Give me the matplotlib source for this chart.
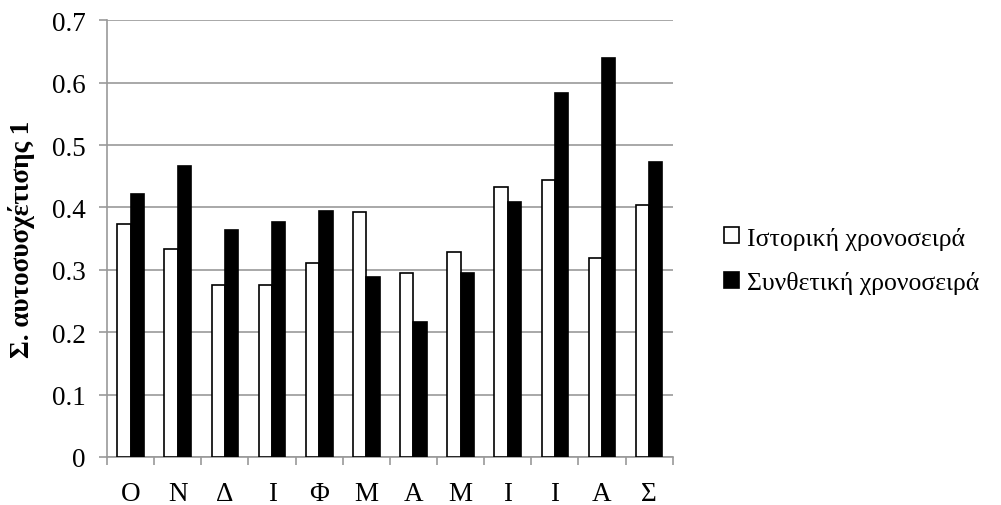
import matplotlib.pyplot as plt
import numpy as np

# Monthly lag-1 autocorrelation, historical vs synthetic series
months = ['Ο', 'Ν', 'Δ', 'Ι', 'Φ', 'Μ', 'Α', 'Μ', 'Ι', 'Ι', 'Α', 'Σ']
historical = [0.374, 0.334, 0.275, 0.275, 0.311, 0.393, 0.295, 0.329, 0.433, 0.444, 0.319, 0.404]
synthetic = [0.422, 0.467, 0.364, 0.377, 0.395, 0.289, 0.216, 0.295, 0.409, 0.583, 0.639, 0.472]

serif = 'Liberation Serif'

fig = plt.figure(figsize=(10.01, 5.06), dpi=100)
ax = fig.add_axes([0.107, 0.095, 0.565, 0.863])

x = np.arange(len(months))
w = 0.283
ax.bar(x - w / 2, historical, w, color='white', edgecolor='black', linewidth=1.2,
       label='Ιστορική χρονοσειρά', zorder=3)
ax.bar(x + w / 2, synthetic, w, color='black', edgecolor='black', linewidth=1.2,
       label='Συνθετική χρονοσειρά', zorder=3)

ax.set_xlim(-0.5, len(months) - 0.5)
ax.set_ylim(0, 0.7)
ax.set_yticks(np.arange(0, 0.71, 0.1))
ax.set_yticklabels(['0', '0.1', '0.2', '0.3', '0.4', '0.5', '0.6', '0.7'])
ax.yaxis.grid(True, color='#999999', linewidth=1.2, zorder=0)

# category ticks at group boundaries, labels centred
ax.set_xticks(np.arange(-0.5, len(months), 1.0))
ax.set_xticklabels([])
ax.set_xticks(x, minor=True)
ax.set_xticklabels(months, minor=True, family=serif, fontsize=19.5)
ax.tick_params(axis='x', which='minor', length=0, pad=17)
ax.tick_params(axis='x', which='major', length=5.5, color='#999999', width=1.2)
ax.tick_params(axis='y', length=5.5, color='#999999', width=1.2, pad=10)
for lbl in ax.get_yticklabels():
    lbl.set_family(serif)
    lbl.set_fontsize(19.5)

for s in ['top', 'right']:
    ax.spines[s].set_visible(False)
for s in ['left', 'bottom']:
    ax.spines[s].set_color('#999999')
    ax.spines[s].set_linewidth(1.2)

ax.set_ylabel('Σ. αυτοσυσχέτισης 1', family=serif, fontsize=19.5,
              fontweight='bold', labelpad=12)

ax.legend(loc='center left', bbox_to_anchor=(1.05, 0.45), frameon=False,
          prop={'family': serif, 'size': 18.5}, handlelength=0.58,
          handleheight=0.58, handletextpad=0.3, labelspacing=0.85)

fig.savefig('out.png', dpi=100)
